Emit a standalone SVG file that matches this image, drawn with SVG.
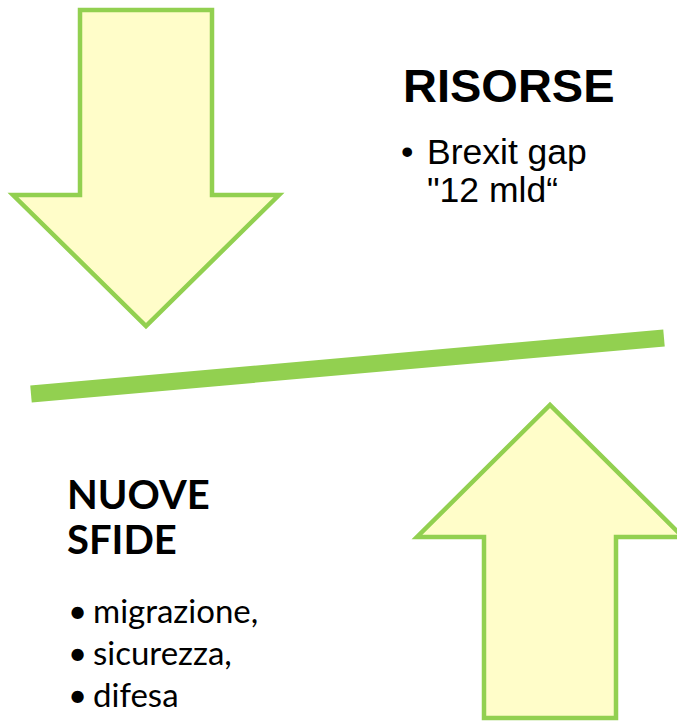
<svg xmlns="http://www.w3.org/2000/svg" width="677" height="722" viewBox="0 0 677 722">
<style>
.arrow{fill:#FFFDC9;stroke:#92D050;stroke-width:4.5;stroke-linejoin:miter}
.h1{font-family:"Liberation Sans",Arial,sans-serif;font-weight:bold;font-size:47px;fill:#000}
.b1{font-family:"Liberation Sans",Arial,sans-serif;font-size:35.5px;fill:#000}
.h2{font-family:Lato,"Open Sans",sans-serif;font-weight:bold;font-size:40px;fill:#000}
.b2{font-family:Lato,"Open Sans",sans-serif;font-size:33px;fill:#000}
</style>
<rect width="677" height="722" fill="#fff"/>
<g id="arrow-down">
<path class="arrow" d="M80,10 H212 V195 H279 L146,326 L13,195 H80 Z"/>
</g>
<g id="arrow-up">
<path class="arrow" d="M484,718 V537 H417 L550,405 L683,537 H616 V718 Z"/>
</g>
<g id="divider">
<line x1="31" y1="394" x2="664" y2="338" stroke="#92D050" stroke-width="17"/>
</g>
<g id="risorse">
<text class="h1" x="403" y="102">RISORSE</text>
<text class="b1" x="401" y="164">•</text>
<text class="b1" x="427" y="164">Brexit gap</text>
<text class="b1" x="427" y="202">"12 mld“</text>
</g>
<g id="nuove-sfide">
<text class="h2" x="67" y="509">NUOVE</text>
<text class="h2" x="67" y="554">SFIDE</text>
<text class="b2" x="68" y="623">•</text>
<text class="b2" x="93" y="623">migrazione,</text>
<text class="b2" x="68" y="665">•</text>
<text class="b2" x="93" y="665">sicurezza,</text>
<text class="b2" x="68" y="707">•</text>
<text class="b2" x="93" y="707">difesa</text>
</g>
</svg>
